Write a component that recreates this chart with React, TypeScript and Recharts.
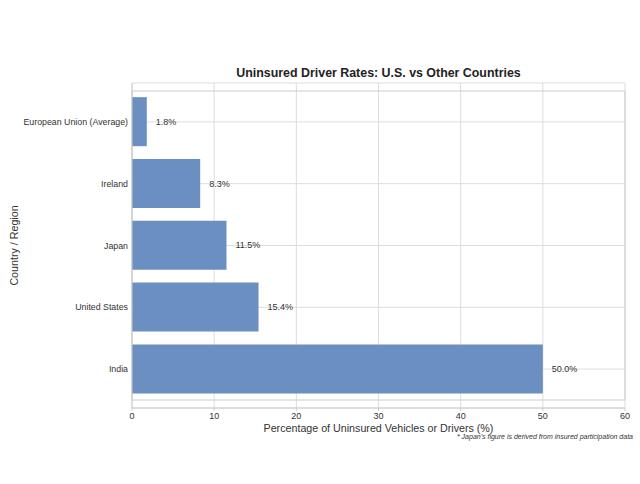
import React from 'react';
import {
  BarChart,
  Bar,
  XAxis,
  YAxis,
  CartesianGrid,
  LabelList,
  Label,
  ReferenceArea,
} from 'recharts';

const regions = ['European Union (Average)', 'Ireland', 'Japan', 'United States', 'India'];
const uninsuredRates = [1.8, 8.3, 11.5, 15.4, 50.0];
const xTicks = [0, 10, 20, 30, 40, 50, 60];

const data = regions.map((region, i) => ({ region, rate: uninsuredRates[i] }));

const FONT = '"Liberation Sans", Arial, sans-serif';
const BAR_COLOR = '#6a8fc0';
const GRID = '#dddddd';

// single-line category tick (default Text wraps long labels)
const RegionTick = ({ x, y, payload }: any) => (
  <text x={x - 2} y={y} textAnchor="end" dominantBaseline="central" fontSize={8.8} fill="#333" fontFamily={FONT}>
    {payload.value}
  </text>
);

const App: React.FC = () => {
  return (
    <div style={{ position: 'absolute', left: 0, top: 0, width: 640, height: 484, fontFamily: FONT }}>
      <div
        style={{
          position: 'absolute',
          left: 132,
          width: 493,
          top: 64,
          textAlign: 'center',
          fontSize: 12.4,
          fontWeight: 'bold',
          color: '#222',
          lineHeight: '18px',
        }}
      >
        Uninsured Driver Rates: U.S. vs Other Countries
      </div>
      <BarChart
        width={640}
        height={484}
        data={data}
        layout="vertical"
        barCategoryGap="10%"
        margin={{ top: 83, right: 15, bottom: 46, left: 0 }}
      >
        <CartesianGrid stroke={GRID} strokeWidth={1} />
        <ReferenceArea x1={0} x2={60} fill="none" fillOpacity={0} stroke="#cccccc" strokeOpacity={1} />
        <XAxis
          type="number"
          domain={[0, 60]}
          ticks={xTicks}
          height={30}
          tickSize={3}
          tickLine={{ stroke: '#cccccc' }}
          axisLine={{ stroke: '#cccccc' }}
          tick={{ fontSize: 9, fill: '#333', fontFamily: FONT }}
        >
          <Label
            content={({ viewBox }: any) => (
              <text
                x={viewBox.x + viewBox.width / 2}
                y={viewBox.y + 24}
                textAnchor="middle"
                fontSize={10.7}
                fill="#333"
                fontFamily={FONT}
              >
                Percentage of Uninsured Vehicles or Drivers (%)
              </text>
            )}
          />
        </XAxis>
        <YAxis
          type="category"
          dataKey="region"
          width={132}
          padding={{ top: 8, bottom: 8 }}
          tickSize={0}
          axisLine={{ stroke: '#cccccc' }}
          tick={<RegionTick />}
          interval={0}
        >
          <Label
            content={({ viewBox }: any) => {
              const cx = 14;
              const cy = viewBox.y + viewBox.height / 2;
              return (
                <text
                  x={cx}
                  y={cy}
                  transform={`rotate(-90 ${cx} ${cy})`}
                  textAnchor="middle"
                  dominantBaseline="central"
                  fontSize={10.7}
                  fill="#333"
                  fontFamily={FONT}
                >
                  Country / Region
                </text>
              );
            }}
          />
        </YAxis>
        <Bar dataKey="rate" fill={BAR_COLOR} isAnimationActive={false}>
          <LabelList
            dataKey="rate"
            position="right"
            offset={9}
            formatter={(v: number) => `${v.toFixed(1)}%`}
            style={{ fontSize: 9, fill: '#333', fontFamily: FONT }}
          />
        </Bar>
      </BarChart>
      <div
        style={{
          position: 'absolute',
          right: 7,
          top: 433,
          fontSize: 7,
          fontStyle: 'italic',
          color: '#333',
          whiteSpace: 'nowrap',
        }}
      >
        * Japan's figure is derived from insured participation data
      </div>
    </div>
  );
};

export default App;
